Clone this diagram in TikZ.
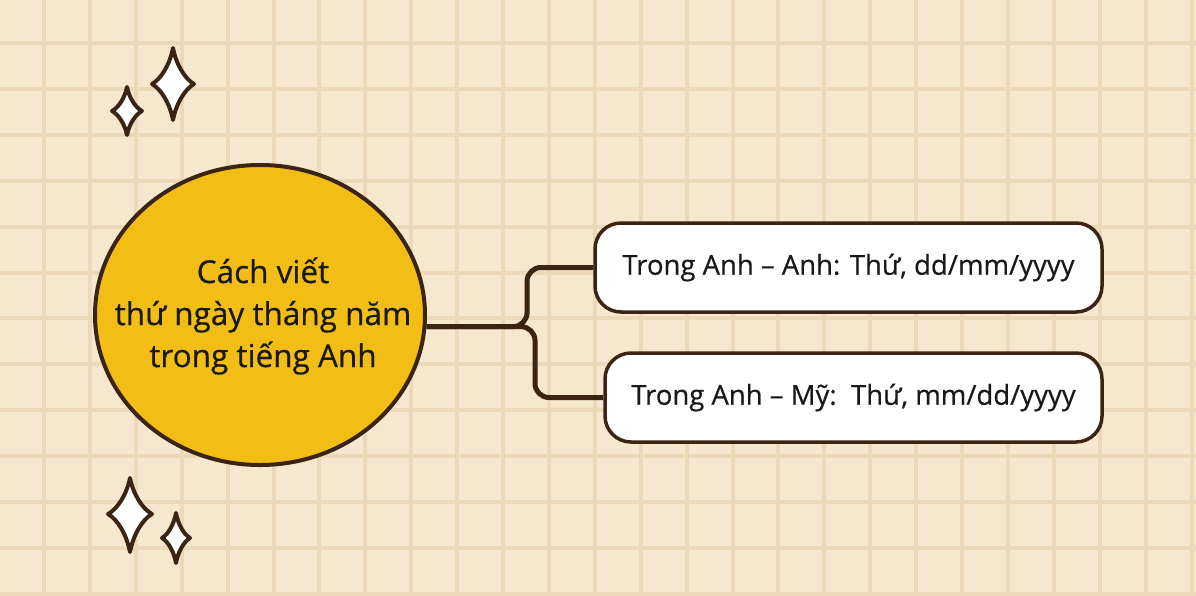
\documentclass[tikz,border=0pt]{standalone}
\usepackage{fontspec}
\setmainfont{Open Sans}[FakeBold=0.5]
\usetikzlibrary{shapes.geometric}
\definecolor{paper}{HTML}{F6E8CE}
\definecolor{gridline}{HTML}{EBD9B7}
\definecolor{ink}{HTML}{3B2414}
\definecolor{sun}{HTML}{F2BE16}
\tikzset{
  bubble/.style={ellipse,fill=sun,draw=ink,line width=4,minimum width=330,minimum height=300,inner sep=0},
  bubbletext/.style={align=center,text=black!90,font=\fontsize{31.5}{42}\selectfont},
  card/.style={rounded corners=26,fill=white,draw=ink,line width=3.5,minimum height=89,text=black!90,font=\fontsize{27.5}{30}\selectfont},
  link/.style={draw=ink,line width=5,rounded corners=14},
  sparkle/.style={fill=white,draw=ink,line width=4,line join=round}
}
\newcommand{\sparkstar}[5]{% centre x, centre y, half width, half height up, half height down
  \draw[sparkle] (#1,#2-#4) .. controls (#1+0.15*#3,#2-0.55*#4) and (#1+0.55*#3,#2-0.15*#4) .. (#1+#3,#2)
    .. controls (#1+0.55*#3,#2+0.15*#5) and (#1+0.15*#3,#2+0.55*#5) .. (#1,#2+#5)
    .. controls (#1-0.15*#3,#2+0.55*#5) and (#1-0.55*#3,#2+0.15*#5) .. (#1-#3,#2)
    .. controls (#1-0.55*#3,#2-0.15*#4) and (#1-0.15*#3,#2-0.55*#4) .. cycle;}
\begin{document}
\begin{tikzpicture}[x=1pt,y=-1pt]
  % paper and grid
  \fill[paper] (0,0) rectangle (1196,595);
  \useasboundingbox (0,0) rectangle (1196,595);
  \foreach \i in {0,...,25}
    \draw[gridline,line width=4] (44+45.9*\i,0) -- (44+45.9*\i,595);
  \foreach \j in {0,...,12}
    \draw[gridline,line width=4] (0,43+45.9*\j) -- (1196,43+45.9*\j);

  % sparkles
  \sparkstar{173}{84}{21}{36}{36}
  \sparkstar{127}{111}{15}{24}{24}
  \sparkstar{130}{514}{22}{36}{38}
  \sparkstar{176}{538}{14}{25}{25}

  % nodes
  \node[bubble] (main) at (260,315) {};
  \node[bubbletext] (mainlabel) at (263,316) {Cách viết\\thứ ngày tháng năm\\trong tiếng Anh};
  \node[card,minimum width=507] (anh) at (848.5,267.5) {Trong Anh -- Anh: Thứ, dd/mm/yyyy};
  \node[card,minimum width=497] (my) at (853.5,397.5) {Trong Anh -- Mỹ:\ \ Thứ, mm/dd/yyyy};

  % connectors
  \draw[link] (main.-4.5) -| (527,300) |- (anh.west);
  \draw[link] (main.-4.5) -| (535,360) |- (my.west);
\end{tikzpicture}
\end{document}
